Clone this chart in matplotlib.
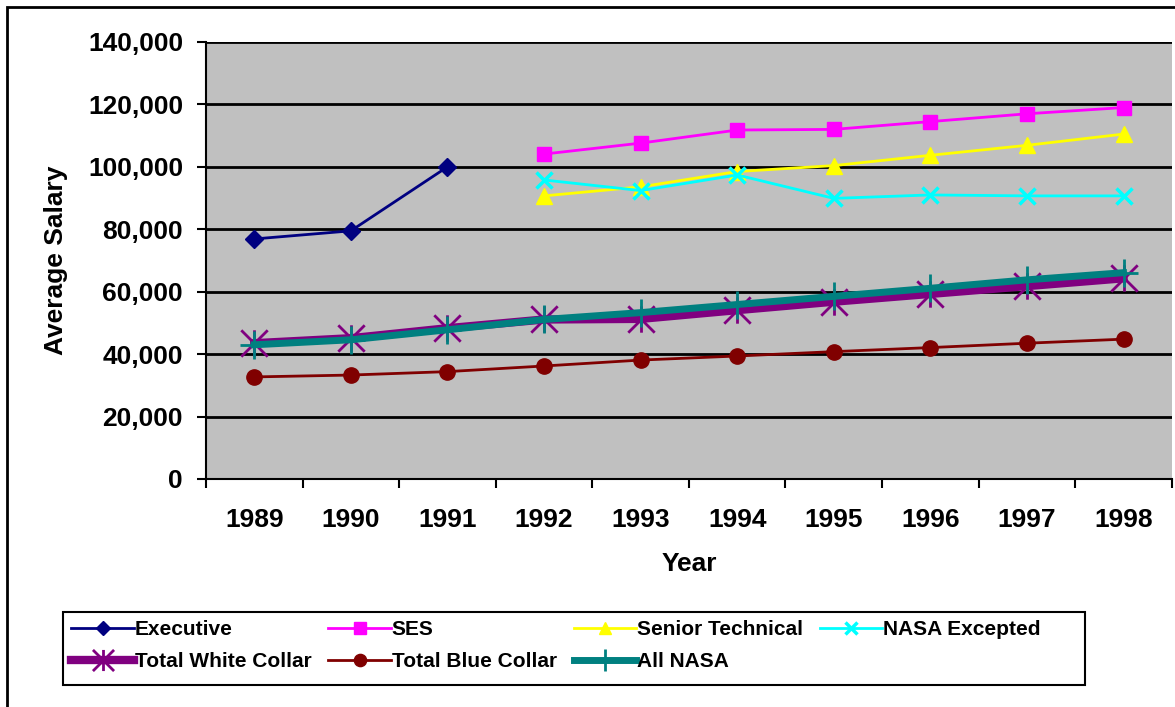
import matplotlib
matplotlib.use("Agg")
import matplotlib.pyplot as plt
from matplotlib.ticker import FuncFormatter, FixedLocator
from matplotlib.patches import Rectangle
from matplotlib.path import Path

plt.rcParams['font.family'] = ['Liberation Sans', 'DejaVu Sans']
plt.rcParams['font.weight'] = 'bold'

years = ['1989', '1990', '1991', '1992', '1993', '1994', '1995', '1996', '1997', '1998']

executive = [76900, 79500, 100000, None, None, None, None, None, None, None]
ses = [None, None, None, 104100, 107600, 111800, 112000, 114500, 117000, 119000]
senior_tech = [None, None, None, 90700, 93600, 98500, 100400, 103700, 106900, 110500]
nasa_excepted = [None, None, None, 95800, 92400, 97400, 89900, 91000, 90700, 90700]
white_collar = [43500, 45100, 48300, 51100, 51300, 54100, 56800, 59300, 61800, 64300]
blue_collar = [32700, 33300, 34400, 36200, 38100, 39400, 40800, 42100, 43500, 44800]
all_nasa = [43000, 44600, 47800, 51100, 53300, 55900, 58500, 61100, 63800, 66100]

# excel style star: an X with a vertical bar through it
star = Path([(-0.5, -0.5), (0.5, 0.5), (-0.5, 0.5), (0.5, -0.5), (0, -0.5), (0, 0.5)],
            [Path.MOVETO, Path.LINETO, Path.MOVETO, Path.LINETO, Path.MOVETO, Path.LINETO])

W, H = 1175, 707
fig = plt.figure(figsize=(W / 100, H / 100), dpi=100)
ax = fig.add_axes([0.1753, 0.3225, 0.822, 0.6181])
ax.set_facecolor('#C0C0C0')

x = list(range(len(years)))

def valid(vals):
    xs = [i for i, v in zip(x, vals) if v is not None]
    ys = [v for v in vals if v is not None]
    return xs, ys

h = {}
xs, ys = valid(executive)
h['ex'], = ax.plot(xs, ys, color='#000080', lw=2, marker='D', ms=9, label='Executive')
xs, ys = valid(ses)
h['ses'], = ax.plot(xs, ys, color='#FF00FF', lw=2, marker='s', ms=10, label='SES')
xs, ys = valid(senior_tech)
h['st'], = ax.plot(xs, ys, color='#FFFF00', lw=2, marker='^', ms=11, label='Senior Technical')
xs, ys = valid(nasa_excepted)
h['ne'], = ax.plot(xs, ys, color='#00FFFF', lw=2, marker='x', ms=11, mew=2.5, label='NASA Excepted')
h['wc'], = ax.plot(x, white_collar, color='#800080', lw=6, marker=star, ms=19, mew=2,
                   label='Total White Collar')
h['bc'], = ax.plot(x, blue_collar, color='#800000', lw=2, marker='o', ms=11, label='Total Blue Collar')
h['an'], = ax.plot(x, all_nasa, color='#008080', lw=5, marker='+', ms=20, mew=2, label='All NASA')

ax.set_xlim(-0.5, len(years) - 0.5)
ax.set_ylim(0, 140000)
ax.set_yticks(range(0, 140001, 20000))
ax.yaxis.set_major_formatter(FuncFormatter(lambda v, p: f"{int(v):,}"))
ax.grid(axis='y', color='black', lw=2)
ax.set_axisbelow(True)

ax.xaxis.set_major_locator(FixedLocator([i - 0.5 for i in range(len(years) + 1)]))
ax.xaxis.set_minor_locator(FixedLocator(x))
ax.set_xticklabels([])
ax.set_xticklabels(years, minor=True)
ax.tick_params(axis='x', which='major', direction='out', length=6.5, width=1.5)
ax.tick_params(axis='x', which='minor', length=0, pad=21, labelsize=19)
ax.tick_params(axis='y', direction='out', length=6.5, width=1.5, pad=10, labelsize=19)

for s in ['top', 'right']:
    ax.spines[s].set_visible(False)
for s in ['left', 'bottom']:
    ax.spines[s].set_linewidth(1.5)

ax.set_xlabel('Year', fontsize=19, fontweight='bold', labelpad=14)
ax.set_ylabel('Average Salary', fontsize=19, fontweight='bold', labelpad=14)

# legend is filled column by column, so interleave the two rows
order = ['ex', 'wc', 'ses', 'bc', 'st', 'an', 'ne']
handles = [h[k] for k in order]
labels = [h[k].get_label() for k in order]
leg = fig.legend(handles, labels, loc='upper left', ncol=4,
                 bbox_to_anchor=(63 / W, 1 - 612 / H),
                 fontsize=15, handlelength=3.0, handletextpad=0.05, borderaxespad=0,
                 columnspacing=0.8, labelspacing=0.6, frameon=False,
                 borderpad=0.4, markerscale=0.8)
for t in leg.get_texts():
    t.set_fontweight('bold')

# legend box and outer chart border
fig.patches.append(Rectangle((63 / W, 1 - 685 / H), (1085 - 63) / W, 73 / H,
                             transform=fig.transFigure, fill=False,
                             edgecolor='black', lw=1.5))
fig.patches.append(Rectangle((7 / W, -0.01), 1.1, 1 - 7 / H + 0.01,
                             transform=fig.transFigure, fill=False,
                             edgecolor='black', lw=2))

fig.savefig('out.png', dpi=100)
